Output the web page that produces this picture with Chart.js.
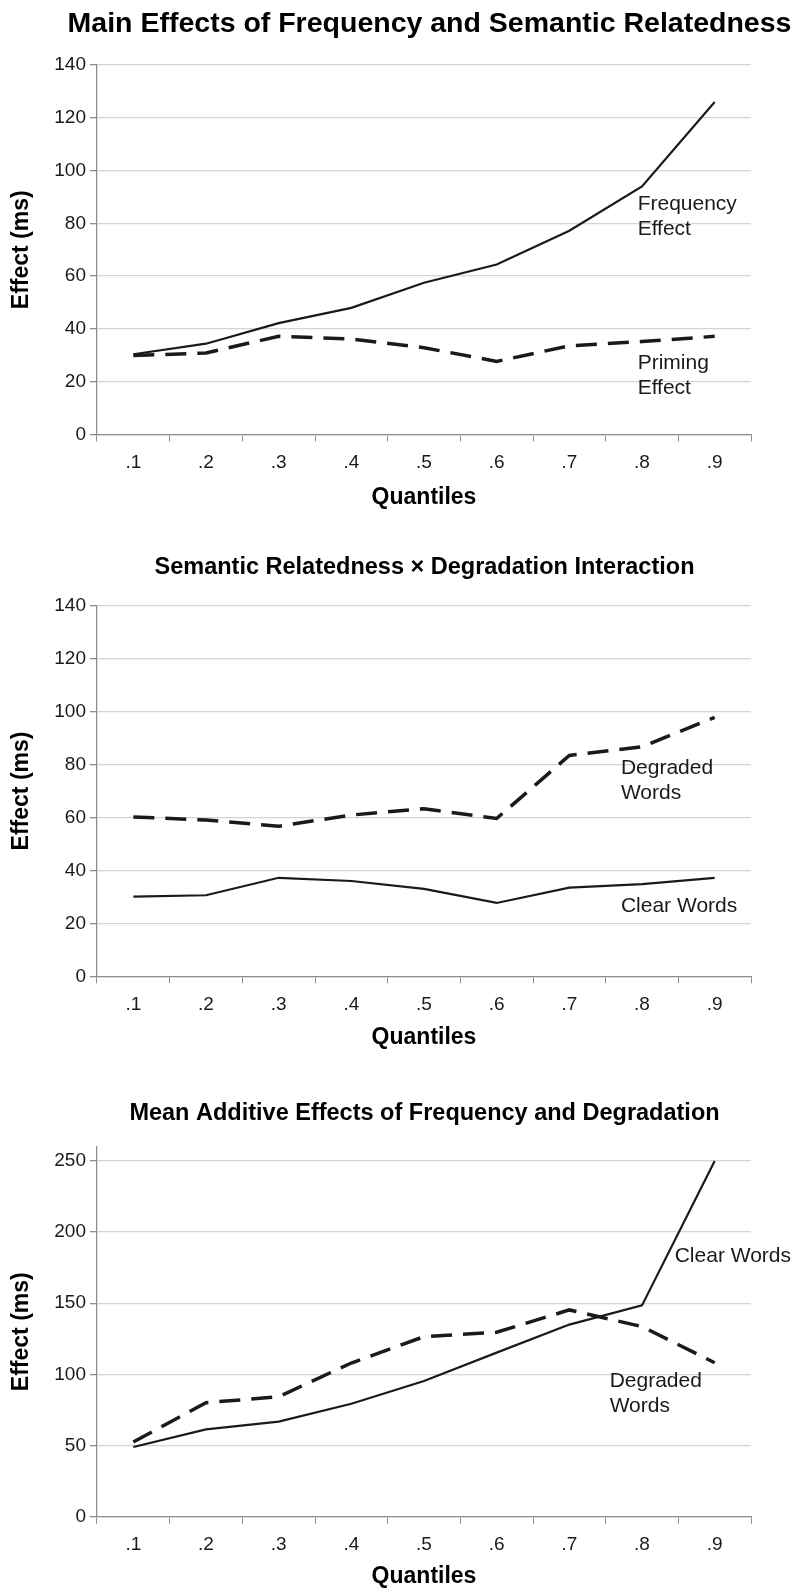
<!DOCTYPE html>
<html>
<head>
<meta charset="utf-8">
<script src="https://cdn.jsdelivr.net/npm/chart.js@4.4.1/dist/chart.umd.min.js"></script>
<style>
  html, body { margin: 0; padding: 0; background: #fff; }
  body { width: 793px; height: 1588px; position: relative; overflow: hidden; }
  /* panels run past the right edge so the titles centre over the plots */
  .panel { position: absolute; left: 0; }
</style>
</head>
<body>
<div class="panel" style="top:0;width:859px;height:511px"><canvas id="mainChart"></canvas></div>
<div class="panel" style="top:540px;width:849px;height:511px"><canvas id="interactionChart"></canvas></div>
<div class="panel" style="top:1080px;width:849px;height:510px"><canvas id="additiveChart"></canvas></div>
<script>
// Quantile categories (x axis)
const quantiles = ['.1', '.2', '.3', '.4', '.5', '.6', '.7', '.8', '.9'];

// Panel 1: main effects (ms)
const frequencyEffect = [30.4, 34.4, 42.2, 48, 57.5, 64.4, 77.2, 94, 126];
const primingEffect = [29.9, 30.9, 37.2, 36.2, 32.9, 27.7, 33.6, 35.2, 37.2];

// Panel 2: semantic relatedness x degradation (ms)
const degradedPriming = [60.2, 59, 56.7, 60.9, 63.3, 59.6, 83.4, 86.7, 97.8];
const clearPriming = [30.1, 30.6, 37.2, 36, 33, 27.7, 33.5, 34.8, 37.2];

// Panel 3: additive effects of frequency and degradation (ms)
const clearFrequency = [49, 61.4, 66.8, 79.4, 95.4, 115.3, 135, 148.5, 250];
const degradedFrequency = [52.5, 80.1, 84.3, 108, 126.5, 129.6, 145.3, 133.6, 108.2];

const FONT = "'Liberation Sans', Arial, Helvetica, sans-serif";
const INK = '#1a1a1a';
const AXIS = '#8f8f8f';
const GRID = '#d4d4d4';
const PLOT_RIGHT = 751;

Chart.defaults.font.family = FONT;
Chart.defaults.color = INK;
Chart.defaults.animation = false;

// text labels placed next to the lines, in data coordinates
const lineLabels = {
    id: 'lineLabels',
    afterDatasetsDraw(chart, args, opts) {
        const { ctx, scales: { x, y } } = chart;
        ctx.save();
        ctx.font = '21px ' + FONT;
        ctx.fillStyle = INK;
        ctx.textAlign = 'left';
        ctx.textBaseline = 'middle';
        (opts.notes || []).forEach(n => {
            const px = x.getPixelForValue(n.x);
            const py = y.getPixelForValue(n.y);
            n.text.forEach((t, i) => ctx.fillText(t, px, py + i * 25));
        });
        ctx.restore();
    }
};

function solid(label, data) {
    return { label, data, borderColor: INK, borderWidth: 2.2, pointRadius: 0, tension: 0, fill: false };
}

function dashed(label, data) {
    return { label, data, borderColor: INK, borderWidth: 3.5, borderDash: [21, 11], pointRadius: 0, tension: 0, fill: false };
}

function makeChart(id, cfg) {
    return new Chart(document.getElementById(id), {
        type: 'line',
        data: { labels: quantiles, datasets: cfg.datasets },
        options: {
            responsive: true,
            maintainAspectRatio: false,
            devicePixelRatio: 1,
            layout: { padding: 0 },
            plugins: {
                legend: { display: false },
                tooltip: { enabled: false },
                title: {
                    display: true,
                    text: cfg.title,
                    color: '#000',
                    font: { size: cfg.titleSize, weight: 'bold' },
                    padding: cfg.titlePadding
                },
                lineLabels: { notes: cfg.notes }
            },
            scales: {
                x: {
                    offset: true,
                    grid: { offset: true, drawOnChartArea: false, drawTicks: true, tickLength: 7, tickColor: AXIS },
                    border: { color: AXIS, width: 1.3 },
                    ticks: { font: { size: 19 }, color: INK, padding: 10, maxRotation: 0 },
                    title: { display: true, text: 'Quantiles', color: '#000', font: { size: 23, weight: 'bold' }, padding: { top: 0, bottom: 0 } },
                    afterFit: s => { s.height = cfg.xHeight; }
                },
                y: {
                    min: 0,
                    max: cfg.yMax,
                    grid: { color: GRID, lineWidth: 1.3, tickLength: 7, tickColor: AXIS },
                    border: { color: AXIS, width: 1.3 },
                    ticks: { stepSize: cfg.yStep, includeBounds: false, font: { size: 19 }, color: INK, padding: 4 },
                    title: { display: true, text: 'Effect (ms)', color: '#000', font: { size: 23, weight: 'bold' }, padding: { top: 8, bottom: 0 } },
                    afterFit: s => { s.width = 97; }
                },
                // empty right-hand margin; keeps the title centred over the plot
                gutter: {
                    type: 'linear',
                    position: 'right',
                    grid: { display: false },
                    border: { display: false },
                    ticks: { display: false },
                    afterFit: s => { s.width = s.chart.width - PLOT_RIGHT; }
                }
            }
        },
        plugins: [lineLabels]
    });
}

makeChart('mainChart', {
    title: 'Main Effects of Frequency and Semantic Relatedness',
    titleSize: 28.5,
    titlePadding: { top: 7.1, bottom: 23.7 },
    datasets: [solid('Frequency Effect', frequencyEffect), dashed('Priming Effect', primingEffect)],
    yMax: 140, yStep: 20,
    xHeight: 76.5,
    notes: [
        { text: ['Frequency', 'Effect'], x: 6.94, y: 87.3 },
        { text: ['Priming', 'Effect'], x: 6.94, y: 27.2 }
    ]
});

makeChart('interactionChart', {
    title: 'Semantic Relatedness \u00d7 Degradation Interaction',
    titleSize: 23.5,
    titlePadding: { top: 13.9, bottom: 23.5 },
    datasets: [dashed('Degraded Words', degradedPriming), solid('Clear Words', clearPriming)],
    yMax: 140, yStep: 20,
    xHeight: 74.7,
    notes: [
        { text: ['Degraded', 'Words'], x: 6.71, y: 78.75 },
        { text: ['Clear Words'], x: 6.71, y: 26.5 }
    ]
});

makeChart('additiveChart', {
    title: 'Mean Additive Effects of Frequency and Degradation',
    titleSize: 23.5,
    titlePadding: { top: 19.9, bottom: 18.6 },
    datasets: [solid('Clear Words', clearFrequency), dashed('Degraded Words', degradedFrequency)],
    yMax: 260, yStep: 50,
    xHeight: 73.3,
    notes: [
        { text: ['Clear Words'], x: 7.45, y: 183.2 },
        { text: ['Degraded', 'Words'], x: 6.555, y: 95.4 }
    ]
});
</script>
</body>
</html>
